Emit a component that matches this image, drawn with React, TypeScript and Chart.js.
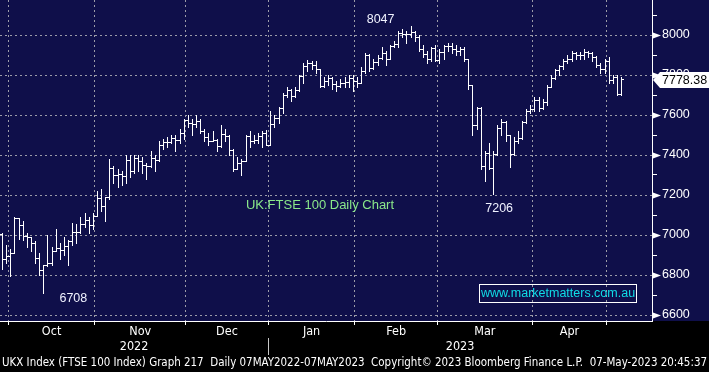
import React, { useEffect, useRef } from 'react';
import { Chart, registerables } from 'chart.js';

Chart.register(...registerables);

// ---- data (trading days shown on the chart) ----
const dates: string[] = [
  '2022-09-29','2022-09-30',
  '2022-10-03','2022-10-04','2022-10-05','2022-10-06','2022-10-07','2022-10-10','2022-10-11','2022-10-12','2022-10-13','2022-10-14','2022-10-17','2022-10-18','2022-10-19','2022-10-20','2022-10-21','2022-10-24','2022-10-25','2022-10-26','2022-10-27','2022-10-28','2022-10-31',
  '2022-11-01','2022-11-02','2022-11-03','2022-11-04','2022-11-07','2022-11-08','2022-11-09','2022-11-10','2022-11-11','2022-11-14','2022-11-15','2022-11-16','2022-11-17','2022-11-18','2022-11-21','2022-11-22','2022-11-23','2022-11-24','2022-11-25','2022-11-28','2022-11-29','2022-11-30',
  '2022-12-01','2022-12-02','2022-12-05','2022-12-06','2022-12-07','2022-12-08','2022-12-09','2022-12-12','2022-12-13','2022-12-14','2022-12-15','2022-12-16','2022-12-19','2022-12-20','2022-12-21','2022-12-22','2022-12-23','2022-12-28','2022-12-29','2022-12-30',
  '2023-01-03','2023-01-04','2023-01-05','2023-01-06','2023-01-09','2023-01-10','2023-01-11','2023-01-12','2023-01-13','2023-01-16','2023-01-17','2023-01-18','2023-01-19','2023-01-20','2023-01-23','2023-01-24','2023-01-25','2023-01-26','2023-01-27','2023-01-30','2023-01-31',
  '2023-02-01','2023-02-02','2023-02-03','2023-02-06','2023-02-07','2023-02-08','2023-02-09','2023-02-10','2023-02-13','2023-02-14','2023-02-15','2023-02-16','2023-02-17','2023-02-20','2023-02-21','2023-02-22','2023-02-23','2023-02-24','2023-02-27','2023-02-28',
  '2023-03-01','2023-03-02','2023-03-03','2023-03-06','2023-03-07','2023-03-08','2023-03-09','2023-03-10','2023-03-13','2023-03-14','2023-03-15','2023-03-16','2023-03-17','2023-03-20','2023-03-21','2023-03-22','2023-03-23','2023-03-24','2023-03-27','2023-03-28','2023-03-29','2023-03-30','2023-03-31',
  '2023-04-03','2023-04-04','2023-04-05','2023-04-06','2023-04-11','2023-04-12','2023-04-13','2023-04-14','2023-04-17','2023-04-18','2023-04-19','2023-04-20','2023-04-21','2023-04-24','2023-04-25','2023-04-26','2023-04-27','2023-04-28',
  '2023-05-02','2023-05-03','2023-05-04','2023-05-05',
];

const opens: number[] = [
  7005, 6881,
  6894, 6909, 7086, 7052, 6997, 6991, 6960, 6886, 6827, 6850, 6858, 6920, 6937, 6925, 6944, 6970, 7013, 7014, 7056, 7074, 7048,
  7095, 7187, 7144, 7189, 7335, 7299, 7306, 7296, 7375, 7318, 7385, 7369, 7351, 7346, 7385, 7376, 7452, 7465, 7466, 7486, 7474, 7512,
  7573, 7559, 7556, 7568, 7521, 7489, 7472, 7476, 7446, 7503, 7495, 7427, 7332, 7361, 7370, 7497, 7469, 7473, 7497, 7512,
  7452, 7554, 7585, 7633, 7699, 7725, 7694, 7725, 7794, 7844, 7860, 7851, 7830, 7747, 7771, 7785, 7757, 7745, 7761, 7765, 7785,
  7772, 7762, 7820, 7902, 7836, 7864, 7885, 7911, 7882, 7947, 7954, 8012, 8004, 8004, 8014, 7990, 7930, 7907, 7879, 7935,
  7876, 7914, 7944, 7947, 7929, 7919, 7929, 7879, 7748, 7548, 7637, 7344, 7410, 7335, 7403, 7536, 7566, 7499, 7405, 7471, 7484, 7564, 7620,
  7632, 7673, 7635, 7663, 7742, 7785, 7825, 7844, 7872, 7880, 7910, 7898, 7902, 7914, 7912, 7892, 7852, 7831,
  7871, 7774, 7788, 7703,
];

const highs: number[] = [
  7010, 6950,
  6930, 7090, 7086, 7070, 7010, 6991, 6970, 6910, 6850, 7000, 6940, 7030, 6960, 6990, 6975, 7060, 7055, 7090, 7110, 7090, 7110,
  7220, 7230, 7190, 7380, 7345, 7330, 7320, 7400, 7400, 7400, 7400, 7390, 7360, 7420, 7400, 7470, 7480, 7490, 7500, 7500, 7530, 7580,
  7600, 7580, 7600, 7580, 7530, 7510, 7520, 7480, 7550, 7530, 7500, 7430, 7390, 7380, 7500, 7520, 7500, 7510, 7520, 7525,
  7620, 7600, 7640, 7710, 7740, 7730, 7740, 7800, 7860, 7875, 7870, 7870, 7830, 7790, 7800, 7790, 7770, 7780, 7790, 7800, 7800,
  7790, 7840, 7910, 7905, 7880, 7900, 7940, 7920, 7950, 7970, 8020, 8030, 8020, 8047, 8020, 8000, 7950, 7920, 7940, 7950,
  7930, 7950, 7960, 7960, 7950, 7940, 7940, 7880, 7750, 7640, 7640, 7420, 7460, 7420, 7550, 7580, 7570, 7500, 7490, 7520, 7570, 7630, 7650,
  7690, 7690, 7680, 7750, 7800, 7830, 7850, 7880, 7900, 7920, 7915, 7915, 7930, 7920, 7915, 7895, 7860, 7880,
  7890, 7800, 7800, 7790,
];

const lows: number[] = [
  6830, 6860,
  6795, 6909, 6980, 6975, 6940, 6920, 6860, 6800, 6708, 6845, 6850, 6920, 6880, 6900, 6850, 6950, 6960, 7010, 7040, 7010, 7030,
  7095, 7120, 7070, 7180, 7260, 7240, 7250, 7260, 7290, 7310, 7320, 7310, 7280, 7340, 7320, 7370, 7430, 7440, 7460, 7420, 7460, 7480,
  7540, 7500, 7540, 7510, 7470, 7450, 7470, 7420, 7440, 7470, 7400, 7320, 7330, 7300, 7370, 7440, 7460, 7460, 7440, 7450,
  7450, 7540, 7560, 7610, 7690, 7670, 7690, 7720, 7760, 7820, 7830, 7810, 7740, 7740, 7750, 7730, 7720, 7740, 7740, 7740, 7720,
  7740, 7760, 7810, 7820, 7830, 7850, 7880, 7850, 7880, 7940, 7940, 7990, 7960, 7990, 7970, 7920, 7890, 7860, 7870, 7870,
  7860, 7880, 7920, 7910, 7900, 7900, 7870, 7730, 7500, 7530, 7330, 7270, 7330, 7206, 7400, 7500, 7470, 7340, 7400, 7460, 7480, 7560, 7610,
  7620, 7620, 7630, 7650, 7740, 7780, 7800, 7830, 7860, 7870, 7880, 7880, 7880, 7890, 7870, 7840, 7810, 7810,
  7760, 7760, 7700, 7700,
];

const closes: number[] = [
  6881, 6894,
  6909, 7086, 7052, 6997, 6991, 6960, 6886, 6827, 6850, 6858, 6920, 6937, 6925, 6944, 6970, 7013, 7014, 7056, 7074, 7048, 7095,
  7187, 7144, 7189, 7335, 7299, 7306, 7296, 7375, 7318, 7385, 7369, 7351, 7346, 7385, 7376, 7452, 7465, 7466, 7486, 7474, 7512, 7573,
  7559, 7556, 7568, 7521, 7489, 7472, 7476, 7446, 7503, 7495, 7427, 7332, 7361, 7370, 7497, 7469, 7473, 7497, 7512, 7452,
  7554, 7585, 7633, 7699, 7725, 7694, 7725, 7794, 7844, 7860, 7851, 7830, 7747, 7771, 7785, 7757, 7745, 7761, 7765, 7785, 7772,
  7762, 7820, 7902, 7836, 7864, 7885, 7911, 7882, 7947, 7954, 8012, 8004, 8004, 8014, 7990, 7930, 7907, 7879, 7935, 7876,
  7914, 7944, 7947, 7929, 7919, 7929, 7879, 7748, 7548, 7637, 7344, 7410, 7335, 7403, 7536, 7566, 7499, 7405, 7471, 7484, 7564, 7620, 7632,
  7673, 7635, 7663, 7742, 7785, 7825, 7844, 7872, 7880, 7910, 7898, 7902, 7914, 7912, 7892, 7852, 7831, 7871,
  7774, 7788, 7703, 7778.38,
];

const yTickValues = [6600, 6700, 6800, 6900, 7000, 7100, 7200, 7300, 7400, 7500, 7600, 7700, 7800, 7900, 8000, 8100];
const yLabelStep = 200;
const monthKeys = ['2022-10', '2022-11', '2022-12', '2023-01', '2023-02', '2023-03', '2023-04'];
const monthNames = ['Oct', 'Nov', 'Dec', 'Jan', 'Feb', 'Mar', 'Apr'];
const yearNames = ['2022', '2023'];
const secondYearKey = '2023-01';
const markedHighDate = '2023-02-20';
const markedLowDates = ['2022-10-13', '2023-03-20'];
const emptySlots = 7;
const yMin = 6570;
const yMax = 8175;
const chartTitle = 'UK:FTSE 100 Daily Chart';
const website = 'www.marketmatters.com.au';
const footer =
  'UKX Index (FTSE 100 Index) Graph 217  Daily 07MAY2022-07MAY2023  Copyright\u00A9 2023 Bloomberg Finance L.P.  07-May-2023 20:45:37';

// ---- styles ----
const NAVY = '#0f0f4a';
const GRID = '#9c9ca8';
const CLEAR = 'rgba(0,0,0,0)';
const ARIAL = '"Liberation Sans", Arial, sans-serif';
const NARROW = '"DejaVu Sans Condensed", "Liberation Sans Narrow", "DejaVu Sans", sans-serif';

const labels: string[] = [...dates, ...Array(emptySlots).fill('')];
const monthStarts: number[] = dates
  .map((d, i) => (i > 0 && d.slice(0, 7) !== dates[i - 1].slice(0, 7) ? i : -1))
  .filter((i) => i >= 0);
const boundarySet = new Set<number>(monthStarts);
const isMajor = (v: number) => Math.abs(v % yLabelStep) < 1e-6;

const bgPlugin = {
  id: 'bg',
  beforeDraw(chart: any) {
    const { ctx, width, height, chartArea } = chart;
    ctx.save();
    ctx.fillStyle = '#000000';
    ctx.fillRect(0, 0, width, height);
    ctx.fillStyle = NAVY;
    ctx.fillRect(0, 0, width, chartArea.bottom);
    ctx.restore();
  },
};

const ohlcPlugin = {
  id: 'ohlc',
  afterDatasetsDraw(chart: any) {
    const { ctx, chartArea } = chart;
    const xs = chart.scales.x;
    const ys = chart.scales.y;
    const xAt = (i: number) => xs.getPixelForValue(i);
    const boundary = (i: number) => (xAt(i - 1) + xAt(i)) / 2;

    // OHLC bars
    ctx.save();
    ctx.strokeStyle = '#ffffff';
    ctx.lineWidth = 1;
    ctx.beginPath();
    for (let i = 0; i < closes.length; i++) {
      const px = Math.round(xAt(i));
      const yH = Math.round(ys.getPixelForValue(highs[i]));
      const yL = Math.round(ys.getPixelForValue(lows[i]));
      const yO = Math.round(ys.getPixelForValue(opens[i])) + 0.5;
      const yC = Math.round(ys.getPixelForValue(closes[i])) + 0.5;
      ctx.moveTo(px + 0.5, yH);
      ctx.lineTo(px + 0.5, yL + 1);
      ctx.moveTo(px - 2, yO);
      ctx.lineTo(px, yO);
      ctx.moveTo(px + 1, yC);
      ctx.lineTo(px + 3, yC);
    }
    ctx.stroke();
    ctx.restore();

    // annotations
    ctx.save();
    ctx.textAlign = 'center';
    ctx.textBaseline = 'middle';
    ctx.font = `12.5px ${ARIAL}`;
    ctx.fillStyle = '#f0f2ff';
    const hi = dates.indexOf(markedHighDate);
    ctx.fillText(String(highs[hi]), xAt(hi) - 30, ys.getPixelForValue(highs[hi]) - 6);
    const lo1 = dates.indexOf(markedLowDates[0]);
    ctx.fillText(String(lows[lo1]), xAt(lo1) + 30, ys.getPixelForValue(lows[lo1]) + 5);
    const lo2 = dates.indexOf(markedLowDates[1]);
    ctx.fillText(String(lows[lo2]), xAt(lo2) + 6, ys.getPixelForValue(lows[lo2]) + 15);

    ctx.font = `13px ${ARIAL}`;
    ctx.fillStyle = '#8ae88a';
    ctx.fillText(chartTitle, 320, 205.5);

    ctx.strokeStyle = '#ffffff';
    ctx.lineWidth = 1;
    ctx.strokeRect(479.5, 284.5, 157, 18);
    ctx.font = `12.5px ${ARIAL}`;
    ctx.fillStyle = '#10dce6';
    ctx.fillText(website, 558, 294);
    ctx.restore();

    // y-axis major tick triangles
    ctx.save();
    ctx.fillStyle = '#ffffff';
    const right = chartArea.right;
    for (const t of ys.ticks) {
      if (!isMajor(t.value)) continue;
      const y = Math.round(ys.getPixelForValue(t.value)) + 0.5;
      ctx.beginPath();
      ctx.moveTo(right + 1, y - 3);
      ctx.lineTo(right + 9, y);
      ctx.lineTo(right + 1, y + 3);
      ctx.closePath();
      ctx.fill();
    }
    ctx.restore();

    // last price box
    const last = closes[closes.length - 1];
    const yc = Math.round(ys.getPixelForValue(last)) + 1;
    ctx.save();
    ctx.fillStyle = '#ffffff';
    ctx.beginPath();
    ctx.moveTo(right + 1, yc);
    ctx.lineTo(right + 8, yc - 8);
    ctx.lineTo(chart.width, yc - 8);
    ctx.lineTo(chart.width, yc + 8);
    ctx.lineTo(right + 8, yc + 8);
    ctx.closePath();
    ctx.fill();
    ctx.fillStyle = '#000000';
    ctx.font = `12.5px ${ARIAL}`;
    ctx.textAlign = 'left';
    ctx.textBaseline = 'middle';
    ctx.fillText(last.toFixed(2), right + 10, yc + 0.5);
    ctx.restore();

    // bottom labels
    ctx.save();
    ctx.fillStyle = '#ffffff';
    ctx.textAlign = 'center';
    ctx.textBaseline = 'middle';
    ctx.font = `12.5px ${NARROW}`;
    monthKeys.forEach((key, k) => {
      let first = -1;
      let lastIdx = -1;
      dates.forEach((d, i) => {
        if (d.slice(0, 7) === key) {
          if (first < 0) first = i;
          lastIdx = i;
        }
      });
      const l = boundary(first);
      const r = boundary(lastIdx + 1);
      ctx.fillText(monthNames[k], (l + r) / 2, 332);
    });
    const yearStart = dates.findIndex((d) => d.slice(0, 7) === secondYearKey);
    const sep = boundary(yearStart);
    ctx.fillText(yearNames[0], (chartArea.left + sep) / 2, 347);
    ctx.fillText(yearNames[1], (sep + chartArea.right) / 2, 347);
    ctx.strokeStyle = '#c8c8c8';
    ctx.lineWidth = 1;
    ctx.beginPath();
    ctx.moveTo(Math.round(sep) + 0.5, 338);
    ctx.lineTo(Math.round(sep) + 0.5, 355);
    ctx.stroke();
    ctx.font = `11.5px ${NARROW}`;
    ctx.textAlign = 'left';
    ctx.fillText(footer, 2, 363, 705);
    ctx.restore();
  },
};

export default function App() {
  const canvasRef = useRef<HTMLCanvasElement | null>(null);

  useEffect(() => {
    const canvas = canvasRef.current;
    if (!canvas) return;
    const chart = new Chart(canvas, {
      type: 'bar',
      data: {
        labels,
        datasets: [
          {
            label: 'UKX',
            data: dates.map((_, i) => [lows[i], highs[i]]) as any,
            backgroundColor: CLEAR,
            borderWidth: 0,
            barPercentage: 0.2,
            categoryPercentage: 1,
          },
        ],
      },
      options: {
        responsive: false,
        animation: false,
        devicePixelRatio: 1,
        layout: { padding: 0 },
        plugins: { legend: { display: false }, tooltip: { enabled: false } },
        scales: {
          x: {
            type: 'category',
            offset: true,
            grid: {
              offset: true,
              lineWidth: 1,
              color: (c: any) => (c.index !== undefined && boundarySet.has(c.index) ? GRID : CLEAR),
              drawTicks: true,
              tickLength: 4,
              tickColor: (c: any) => (c.index !== undefined && boundarySet.has(c.index) ? '#ffffff' : CLEAR),
            },
            border: { display: true, color: '#ffffff', width: 1, dash: [2, 3] },
            ticks: { display: false, autoSkip: false },
            afterFit: (s: any) => {
              s.height = 51;
              s.paddingLeft = 0;
              s.paddingRight = 0;
            },
          },
          y: {
            type: 'linear',
            position: 'right',
            min: yMin,
            max: yMax,
            afterBuildTicks: (s: any) => {
              s.ticks = yTickValues.map((v) => ({ value: v }));
            },
            ticks: {
              autoSkip: false,
              color: '#ffffff',
              padding: 5,
              font: { family: ARIAL, size: 12.5 },
              callback: (v: any) => (isMajor(Number(v)) ? String(v) : ''),
            },
            grid: {
              lineWidth: 1,
              color: (c: any) => (c.tick && isMajor(c.tick.value) ? GRID : CLEAR),
              drawTicks: true,
              tickLength: 5,
              tickColor: (c: any) => (c.tick && !isMajor(c.tick.value) ? '#ffffff' : CLEAR),
            },
            border: { display: true, color: '#ffffff', width: 1, dash: [2, 3] },
            afterFit: (s: any) => {
              s.width = 57;
              s.paddingTop = 0;
              s.paddingBottom = 0;
            },
          },
        },
      } as any,
      plugins: [bgPlugin, ohlcPlugin],
    });
    return () => chart.destroy();
  }, []);

  return (
    <div style={{ position: 'absolute', left: 0, top: 0, width: 709, height: 372 }}>
      <canvas ref={canvasRef} width={709} height={372} style={{ display: 'block' }} />
    </div>
  );
}
